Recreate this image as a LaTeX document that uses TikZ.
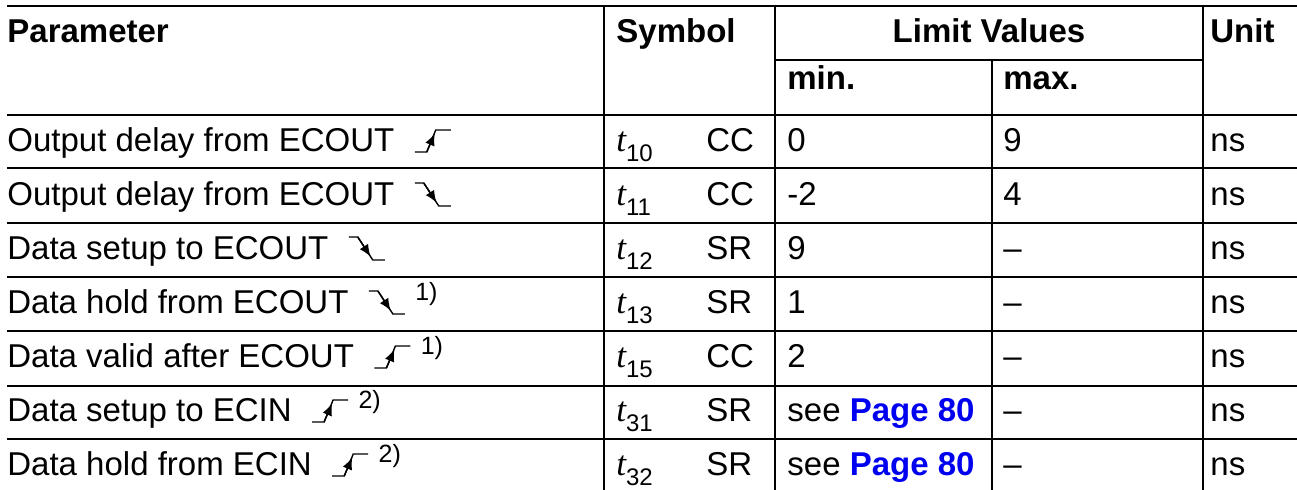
\documentclass[tikz,border=0pt]{standalone}
\usepackage{fontspec}
\setmainfont{Liberation Sans}
\newfontfamily\serifit{Liberation Serif}
\usetikzlibrary{calc,arrows.meta}
\definecolor{linkblue}{RGB}{0,0,240}
\newcommand{\tsym}[1]{{\serifit\itshape\fontsize{17.5}{20}\selectfont t}\raisebox{-5pt}{\fontsize{12}{14}\selectfont #1}}
\newcommand{\pagelink}{see {\bfseries\color{linkblue}Page 80}}
\begin{document}
\begin{tikzpicture}[x=0.5pt,y=-0.5pt,
  grid/.style={line width=1pt},
  txt/.style={anchor=base west,inner sep=0pt,font=\fontsize{16.5}{19}\selectfont},
  hdr/.style={anchor=base west,inner sep=0pt,font=\fontsize{16.5}{19}\selectfont\bfseries},
  fn/.style={anchor=base west,inner sep=0pt,font=\fontsize{12.5}{14}\selectfont},
  edgeline/.style={line width=0.7pt},
  risingedge/.pic={
    \draw[edgeline] (0,0) -- (12,0) -- (21,-22) -- (36,-22);
    \draw[edgeline,-{Latex[length=6pt,width=5pt]}] (12,0) -- (20,-18.5);
  },
  fallingedge/.pic={
    \draw[edgeline] (0,-23) -- (9,-23) -- (24,0) -- (36,0);
    \draw[edgeline,-{Latex[length=6pt,width=5pt]}] (9,-23) -- (21.8,-3.4);
  }]
\useasboundingbox (0,0) rectangle (1297,490);
% grid
\draw[grid] (7,6) -- (1297,6);
\draw[grid] (775,60) -- (1203,60);
\foreach \yy in {115,168,223,277,331,386,439} \draw[grid] (7,\yy) -- (1297,\yy);
\draw[grid] (604,6) -- (604,490);
\draw[grid] (775,6) -- (775,490);
\draw[grid] (992,60) -- (992,490);
\draw[grid] (1203,6) -- (1203,490);
% header
\node[hdr] (hpar) at (7,43) {Parameter};
\node[hdr] (hsym) at (616,43) {Symbol};
\node[hdr,anchor=base] (hlim) at (989,43) {Limit Values};
\node[hdr] (hunit) at (1210,43) {Unit};
\node[hdr] (hmin) at (787,90) {min.};
\node[hdr] (hmax) at (1003,90) {max.};
% row 1
\node[txt] (p1) at (7,152) {Output delay from ECOUT};
\pic at ($(p1.base east)+(20,0)$) {risingedge};
\node[txt] (s1) at (616,152) {\tsym{10}};
\node[txt] (c1) at (706,152) {CC};
\node[txt] (n1) at (787,152) {0};
\node[txt] (x1) at (1003,152) {9};
\node[txt] (u1) at (1210,152) {ns};
% row 2
\node[txt] (p2) at (7,206) {Output delay from ECOUT};
\pic at ($(p2.base east)+(20,0)$) {fallingedge};
\node[txt] (s2) at (616,206) {\tsym{11}};
\node[txt] (c2) at (706,206) {CC};
\node[txt] (n2) at (787,206) {-2};
\node[txt] (x2) at (1003,206) {4};
\node[txt] (u2) at (1210,206) {ns};
% row 3
\node[txt] (p3) at (7,260) {Data setup to ECOUT};
\pic at ($(p3.base east)+(20,0)$) {fallingedge};
\node[txt] (s3) at (616,260) {\tsym{12}};
\node[txt] (c3) at (706,260) {SR};
\node[txt] (n3) at (787,260) {9};
\node[txt] (x3) at (1003,260) {--};
\node[txt] (u3) at (1210,260) {ns};
% row 4
\node[txt] (p4) at (7,314) {Data hold from ECOUT};
\pic at ($(p4.base east)+(20,0)$) {fallingedge};
\node[fn] (f4) at ($(p4.base east)+(66,-13)$) {1)};
\node[txt] (s4) at (616,314) {\tsym{13}};
\node[txt] (c4) at (706,314) {SR};
\node[txt] (n4) at (787,314) {1};
\node[txt] (x4) at (1003,314) {--};
\node[txt] (u4) at (1210,314) {ns};
% row 5
\node[txt] (p5) at (7,368) {Data valid after ECOUT};
\pic at ($(p5.base east)+(20,0)$) {risingedge};
\node[fn] (f5) at ($(p5.base east)+(66,-13)$) {1)};
\node[txt] (s5) at (616,368) {\tsym{15}};
\node[txt] (c5) at (706,368) {CC};
\node[txt] (n5) at (787,368) {2};
\node[txt] (x5) at (1003,368) {--};
\node[txt] (u5) at (1210,368) {ns};
% row 6
\node[txt] (p6) at (7,422) {Data setup to ECIN};
\pic at ($(p6.base east)+(20,0)$) {risingedge};
\node[fn] (f6) at ($(p6.base east)+(66,-13)$) {2)};
\node[txt] (s6) at (616,422) {\tsym{31}};
\node[txt] (c6) at (706,422) {SR};
\node[txt] (n6) at (787,422) {\pagelink};
\node[txt] (x6) at (1003,422) {--};
\node[txt] (u6) at (1210,422) {ns};
% row 7
\node[txt] (p7) at (7,476) {Data hold from ECIN};
\pic at ($(p7.base east)+(20,0)$) {risingedge};
\node[fn] (f7) at ($(p7.base east)+(66,-13)$) {2)};
\node[txt] (s7) at (616,476) {\tsym{32}};
\node[txt] (c7) at (706,476) {SR};
\node[txt] (n7) at (787,476) {\pagelink};
\node[txt] (x7) at (1003,476) {--};
\node[txt] (u7) at (1210,476) {ns};
\end{tikzpicture}
\end{document}
